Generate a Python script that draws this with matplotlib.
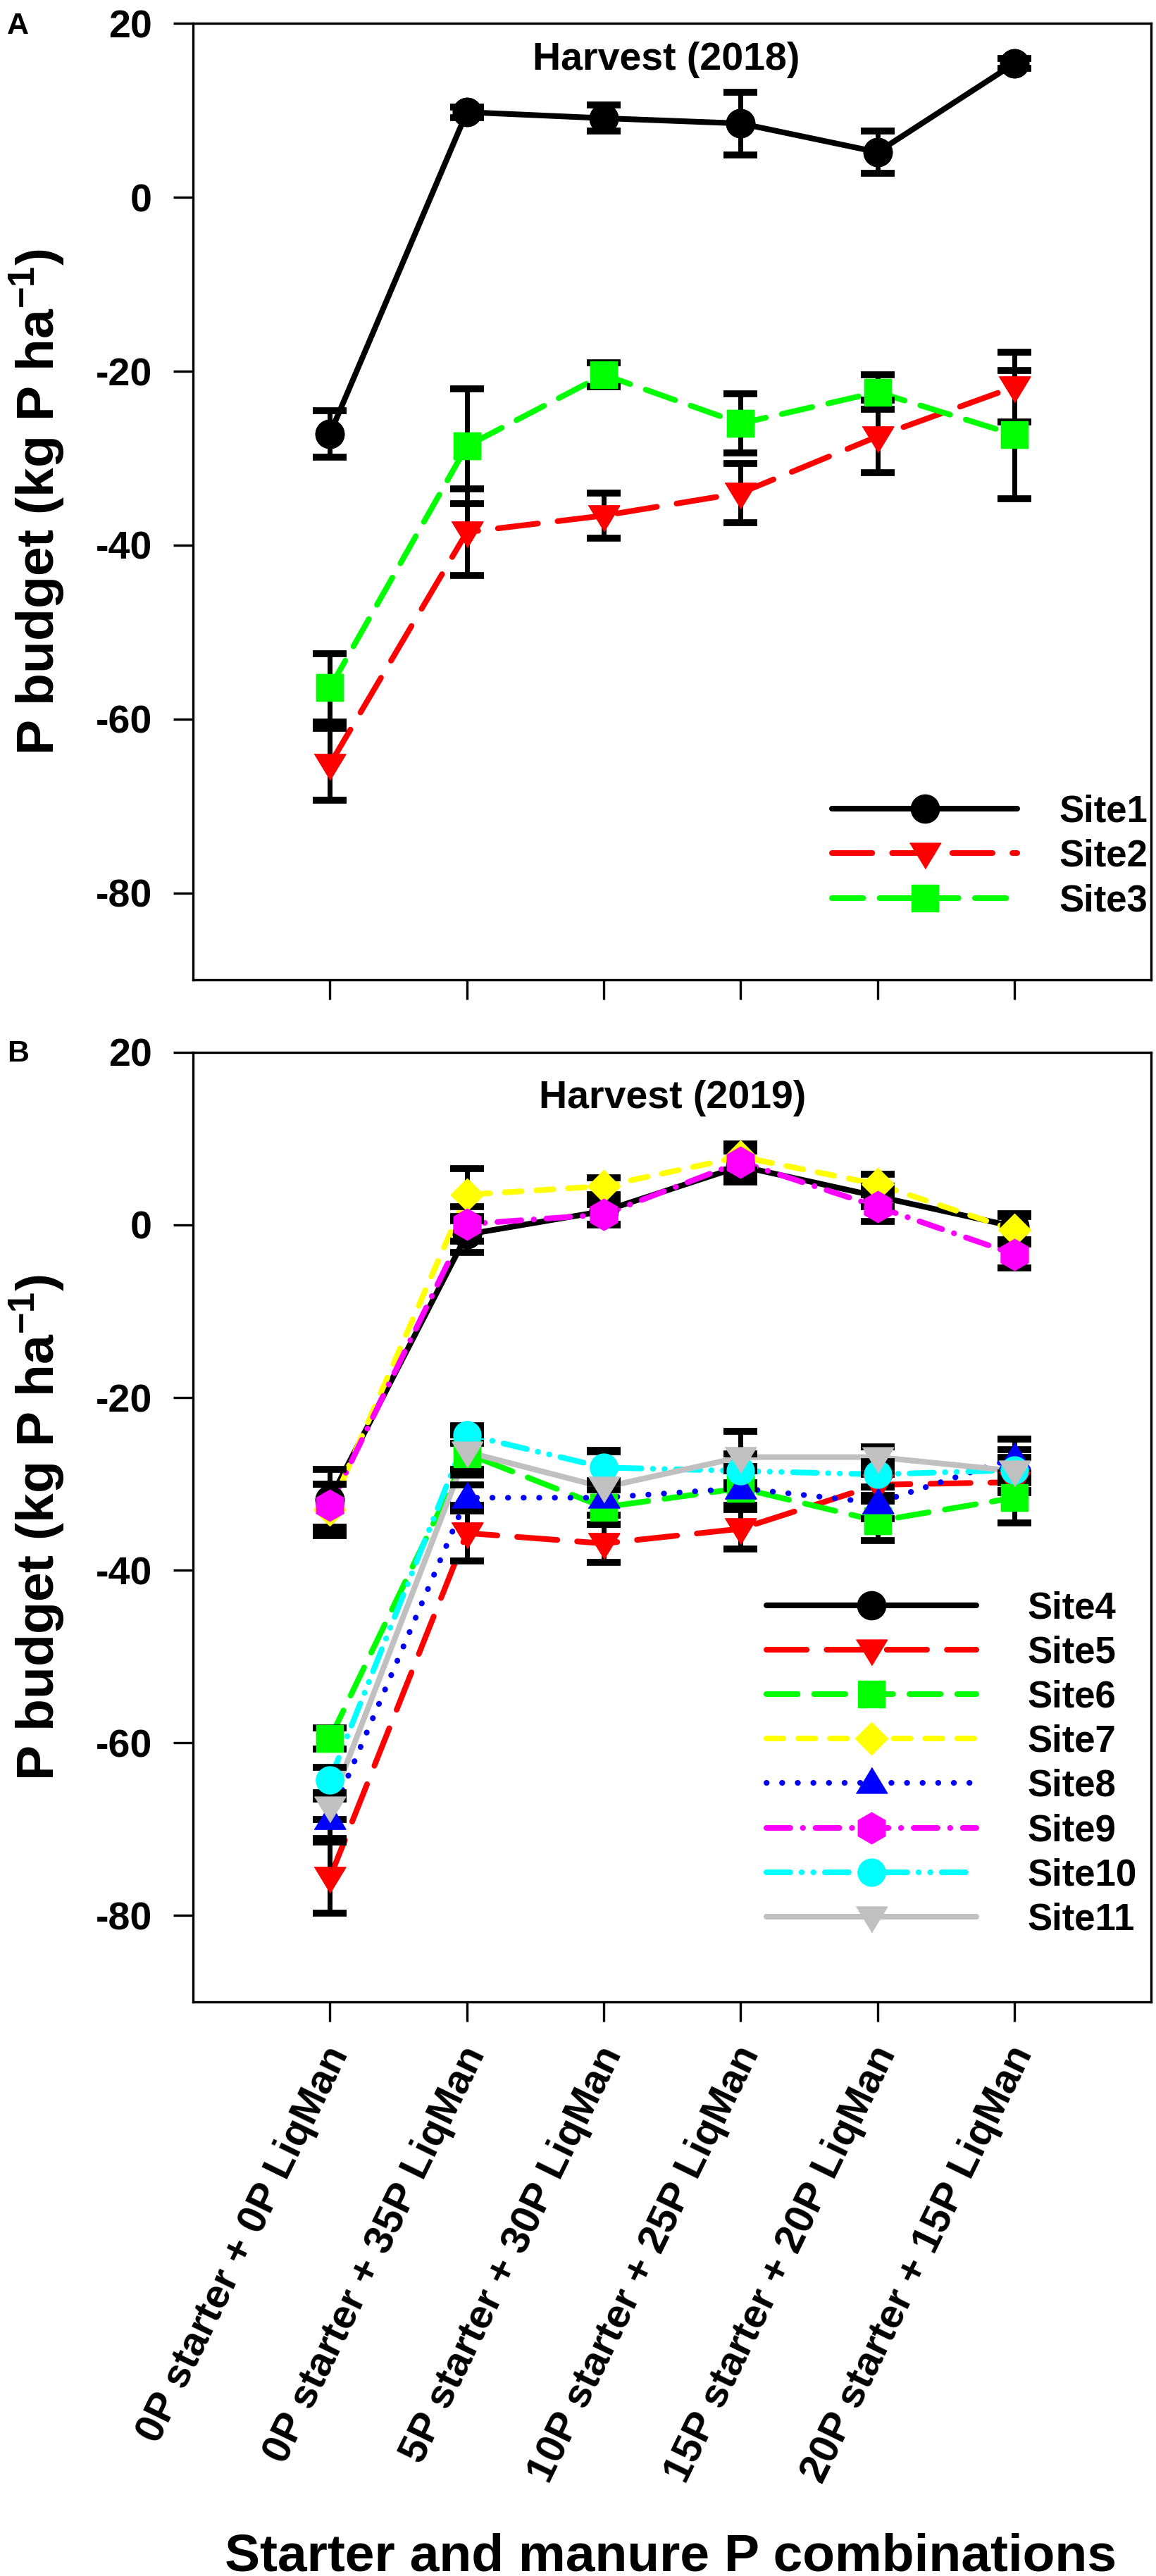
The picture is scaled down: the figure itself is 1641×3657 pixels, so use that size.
import matplotlib
matplotlib.use("Agg")
import matplotlib.pyplot as plt
from matplotlib.transforms import ScaledTranslation

plt.rcParams["font.family"] = ["Liberation Sans", "DejaVu Sans"]
plt.rcParams["font.weight"] = "bold"
plt.rcParams["axes.unicode_minus"] = False
plt.rcParams["mathtext.fontset"] = "custom"
plt.rcParams["mathtext.rm"] = "Liberation Sans:bold"
plt.rcParams["mathtext.it"] = "Liberation Sans:bold"
plt.rcParams["mathtext.bf"] = "Liberation Sans:bold"
plt.rcParams["mathtext.default"] = "rm"
plt.rcParams["lines.dash_capstyle"] = "round"
plt.rcParams["lines.solid_capstyle"] = "round"

# treatments (x axis)
treatments = ["0P starter + 0P LiqMan", "0P starter + 35P LiqMan", "5P starter + 30P LiqMan",
              "10P starter + 25P LiqMan", "15P starter + 20P LiqMan", "20P starter + 15P LiqMan"]
x = list(range(len(treatments)))

# panel A - harvest 2018 (means and error)
site1 = [-27.2, 9.8, 9.1, 8.5, 5.2, 15.4]
site1_err = [2.7, 0.6, 1.5, 3.6, 2.4, 0.6]
site2 = [-65.2, -38.5, -36.6, -34.0, -27.5, -21.8]
site2_err = [4.1, 5.0, 2.6, 3.4, 4.2, 4.0]
site3 = [-56.4, -28.6, -20.4, -26.0, -22.4, -27.3]
site3_err = [3.9, 6.6, 1.4, 3.4, 2.0, 7.4]

# panel B - harvest 2019
site4 = [-31.8, -1.1, 1.6, 6.8, 3.3, -0.2]
site4_err = [3.5, 2.1, 1.5, 1.8, 1.2, 1.5]
site5 = [-75.6, -35.7, -36.9, -35.2, -30.1, -29.8]
site5_err = [4.1, 3.2, 2.2, 2.3, 1.2, 1.0]
site6 = [-59.5, -26.5, -32.7, -30.5, -34.3, -31.6]
site6_err = [1.2, 2.5, 2.0, 2.5, 2.3, 2.9]
site7 = [-33.0, 3.5, 4.5, 7.9, 4.7, -0.6]
site7_err = [3.0, 3.0, 1.0, 1.5, 1.2, 1.6]
site8 = [-68.8, -31.6, -31.6, -30.5, -32.2, -27.0]
site8_err = [2.3, 1.5, 2.0, 2.0, 1.8, 2.2]
site9 = [-32.5, 0.1, 1.2, 7.3, 2.1, -3.4]
site9_err = [2.5, 2.0, 1.2, 1.6, 1.7, 1.6]
site10 = [-64.3, -24.3, -28.1, -28.5, -28.9, -28.4]
site10_err = [1.5, 1.0, 1.8, 2.0, 1.5, 1.5]
site11 = [-67.4, -26.3, -30.4, -26.9, -26.9, -28.5]
site11_err = [1.5, 2.0, 4.3, 3.0, 1.2, 2.5]

# wide flat triangles like the original
tri_down = [(-1, 0.65), (1, 0.65), (0, -1)]
tri_up = [(-1, -0.65), (1, -0.65), (0, 1)]

# style per site: color, marker, markersize, dash pattern
styles = {
    "Site1": ("black", "o", 29, "-"),
    "Site2": ("red", tri_down, 32, (0, (7.1, 3.5))),
    "Site3": ("#00ff00", "s", 27, (0, (5.5, 2.9))),
    "Site4": ("black", "o", 29, "-"),
    "Site5": ("red", tri_down, 32, (0, (7.1, 3.5))),
    "Site6": ("#00ff00", "s", 27, (0, (5.5, 2.9))),
    "Site7": ("yellow", "D", 23, (0, (3.0, 2.6))),
    "Site8": ("blue", tri_up, 32, (0, (0.05, 2.7))),
    "Site9": ("magenta", "h", 32, (0, (4.2, 2.2, 0.05, 2.2))),
    "Site10": ("cyan", "o", 28, (0, (4.2, 2.0, 0.05, 2.0, 0.05, 2.0))),
    "Site11": ("#c0c0c0", tri_down, 32, "-"),
}

fig = plt.figure(figsize=(16.41, 36.57), dpi=100)
axA = fig.add_axes([0.167, 0.6196, 0.829, 0.3713])
axB = fig.add_axes([0.167, 0.2229, 0.829, 0.3686])


def draw(ax, names, ys, errs):
    for name, y, e in zip(names, ys, errs):
        c, m, ms, ls = styles[name]
        ax.plot(x, y, color=c, lw=5.8, ls=ls, marker=m, ms=ms, mec=c, mfc=c, label=name, zorder=2)
        ax.errorbar(x, y, yerr=e, fmt="none", ecolor="black", elinewidth=5,
                    capsize=17, capthick=7, zorder=3)
        ax.plot(x, y, ls="none", marker=m, ms=ms, mec=c, mfc=c, zorder=4)


draw(axA, ["Site1", "Site2", "Site3"], [site1, site2, site3], [site1_err, site2_err, site3_err])
draw(axB, ["Site4", "Site5", "Site6", "Site7", "Site8", "Site9", "Site10", "Site11"],
     [site4, site5, site6, site7, site8, site9, site10, site11],
     [site4_err, site5_err, site6_err, site7_err, site8_err, site9_err, site10_err, site11_err])

for ax in (axA, axB):
    ax.set_xlim(-1, 6)
    ax.set_ylim(-90, 20)
    ax.set_yticks([20, 0, -20, -40, -60, -80])
    ax.set_xticks(x)
    ax.tick_params(direction="out", length=20, width=2.4, labelsize=40, pad=22)
    for sp in ax.spines.values():
        sp.set_linewidth(2.4)
    for t in ax.get_yticklabels():
        t.set_fontweight("bold")

axA.set_xticklabels([])
axB.set_xticklabels(treatments, rotation=64, ha="right", va="center", rotation_mode="anchor",
                    fontsize=41.5, fontweight="bold")
axB.tick_params(axis="x", pad=28)
shift = ScaledTranslation(13 / 100, 0, fig.dpi_scale_trans)
for t in axB.get_xticklabels():
    t.set_transform(t.get_transform() + shift)

axA.text(0.494, 0.962, "Harvest (2018)", transform=axA.transAxes, ha="center", va="center",
         fontsize=40, fontweight="bold")
axB.text(0.5, 0.952, "Harvest (2019)", transform=axB.transAxes, ha="center", va="center",
         fontsize=40, fontweight="bold")

axA.legend(loc="upper left", bbox_to_anchor=(0.6664, 0.194), frameon=False,
           handlelength=5.0, handletextpad=1.12, labelspacing=0.25, borderpad=0,
           borderaxespad=0, numpoints=1, prop={"size": 38, "weight": "bold"})
axB.legend(loc="upper left", bbox_to_anchor=(0.598, 0.433), frameon=False,
           handlelength=5.66, handletextpad=1.36, labelspacing=0.25, borderpad=0,
           borderaxespad=0, numpoints=1, prop={"size": 38, "weight": "bold"})

ylab = r"P budget (kg P ha$^{-1}$)"
fig.text(0.032, 1 - 712 / 3657, ylab, rotation=90, ha="center", va="center", fontsize=54, fontweight="bold")
fig.text(0.032, 1 - 2168 / 3657, ylab, rotation=90, ha="center", va="center", fontsize=54, fontweight="bold")
fig.text(0.58, 8 / 3657, "Starter and manure P combinations", ha="center", va="baseline",
         fontsize=54, fontweight="bold")
fig.text(0.006, 0.990, "A", ha="left", va="center", fontsize=31, fontweight="bold")
fig.text(0.006, 0.591, "B", ha="left", va="center", fontsize=31, fontweight="bold")

fig.savefig("out.png", dpi=100)
